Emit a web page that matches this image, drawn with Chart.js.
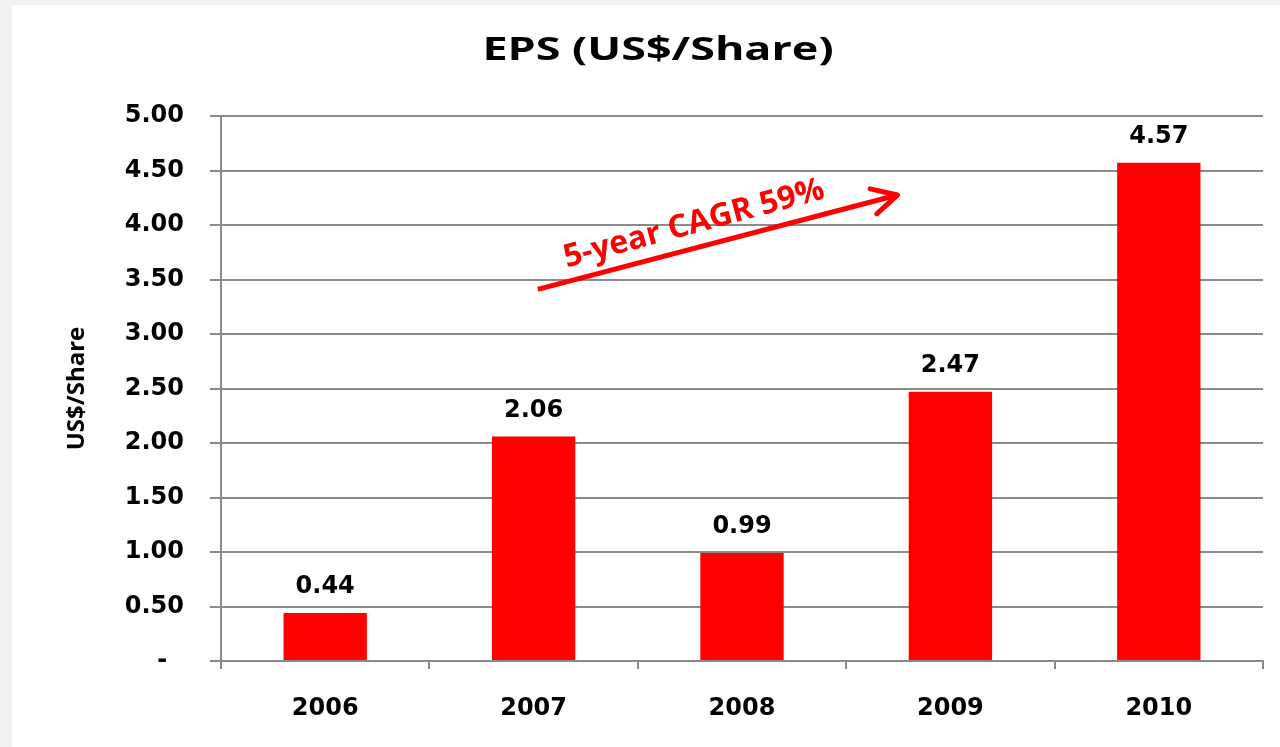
<!DOCTYPE html>
<html>
<head>
<meta charset="utf-8">
<script src="https://cdn.jsdelivr.net/npm/chart.js@4.4.1/dist/chart.umd.min.js"></script>
<style>
  html, body { margin: 0; padding: 0; background: #f2f2f2; }
  #panel { position: absolute; left: 12px; top: 5px; right: 0; bottom: 0; background: #fff; }
  #wrap { position: absolute; left: 0; top: 0; width: 1280px; height: 747px; }
</style>
</head>
<body>
<div id="panel"></div>
<div id="wrap"><canvas id="epsChart"></canvas></div>
<script>
const years = ["2006", "2007", "2008", "2009", "2010"];
const eps = [0.44, 2.06, 0.99, 2.47, 4.57];
const yTicks = [0, 0.5, 1, 1.5, 2, 2.5, 3, 3.5, 4, 4.5, 5];
const chartTitle = "EPS (US$/Share)";
const cagrText = "5-year CAGR 59%";

const gridColor = "#8a8a8a";
const tickFont = { family: "DejaVu Sans", weight: "bold", size: 24 };

// title is drawn wide (the source chart's title is horizontally stretched)
const wideTitle = {
  id: "wideTitle",
  afterDraw(chart) {
    const { ctx } = chart;
    ctx.save();
    ctx.translate(658, 51);
    ctx.scale(1.36, 1);
    ctx.font = "bold 33px 'Open Sans'";
    ctx.fillStyle = "#000";
    ctx.textAlign = "center";
    ctx.textBaseline = "middle";
    ctx.fillText(chartTitle, 0, 0);
    ctx.restore();
  },
};

// value labels over each bar
const valueLabels = {
  id: "valueLabels",
  afterDatasetsDraw(chart) {
    const { ctx } = chart;
    const meta = chart.getDatasetMeta(0);
    ctx.save();
    ctx.font = "bold 24px 'DejaVu Sans'";
    ctx.fillStyle = "#000";
    ctx.textAlign = "center";
    ctx.textBaseline = "middle";
    meta.data.forEach((bar, i) => {
      ctx.fillText(eps[i].toFixed(2), bar.x, bar.y - 26);
    });
    ctx.restore();
  },
};

// red growth arrow + rotated caption, placed in data units
const cagrArrow = {
  id: "cagrArrow",
  afterDatasetsDraw(chart) {
    const { ctx, scales: { x, y } } = chart;
    const x0 = x.getPixelForValue(1.02), y0 = y.getPixelForValue(3.41);
    const x1 = x.getPixelForValue(2.746), y1 = y.getPixelForValue(4.275);
    const ang = Math.atan2(y1 - y0, x1 - x0);
    ctx.save();
    ctx.strokeStyle = "#ff0000";
    ctx.lineWidth = 5;
    ctx.beginPath();
    ctx.moveTo(x0, y0);
    ctx.lineTo(x1 - 3 * Math.cos(ang), y1 - 3 * Math.sin(ang));
    ctx.stroke();
    const head = 28, spread = 0.48;
    ctx.lineCap = "round";
    ctx.lineJoin = "round";
    ctx.beginPath();
    ctx.moveTo(x1 - head * Math.cos(ang - spread), y1 - head * Math.sin(ang - spread));
    ctx.lineTo(x1, y1);
    ctx.lineTo(x1 - head * Math.cos(ang + spread), y1 - head * Math.sin(ang + spread));
    ctx.stroke();

    const tx = x.getPixelForValue(1.77), ty = y.getPixelForValue(4.01);
    ctx.translate(tx, ty);
    ctx.rotate(-15 * Math.PI / 180);
    ctx.fillStyle = "#ff0000";
    ctx.font = "bold 32px 'Open Sans'";
    ctx.textAlign = "center";
    ctx.textBaseline = "middle";
    ctx.fillText(cagrText, 0, 0);
    ctx.restore();
  },
};

new Chart(document.getElementById("epsChart"), {
  type: "bar",
  data: {
    labels: years,
    datasets: [
      {
        data: eps,
        backgroundColor: "#ff0000",
        borderWidth: 0,
        barPercentage: 0.4,
        categoryPercentage: 1,
      },
    ],
  },
  options: {
    responsive: true,
    maintainAspectRatio: false,
    animation: false,
    layout: { padding: { left: 55, right: 17, top: 116, bottom: 26 } },
    plugins: {
      legend: { display: false },
      tooltip: { enabled: false },
      title: { display: false },
    },
    scales: {
      x: {
        afterFit: (s) => { s.height = 60; },
        grid: {
          offset: true,
          drawOnChartArea: false,
          tickLength: 8,
          color: gridColor,
          lineWidth: 2,
        },
        border: { color: gridColor, width: 2 },
        ticks: { color: "#000", font: tickFont, padding: 25, maxRotation: 0 },
      },
      y: {
        min: 0,
        max: 5,
        afterBuildTicks: (s) => { s.ticks = yTicks.map((v) => ({ value: v })); },
        afterFit: (s) => { s.width = 166; },
        grid: { color: gridColor, lineWidth: 2, tickLength: 11 },
        border: { color: gridColor, width: 2 },
        ticks: {
          color: "#000",
          font: tickFont,
          padding: 26,
          callback: (v) => (v === 0 ? "-  " : v.toFixed(2)),
        },
        title: {
          display: true,
          text: "US$/Share",
          color: "#000",
          font: { family: "Open Sans", weight: "bold", size: 24, lineHeight: 1.2 },
          padding: { top: 8, bottom: 0 },
        },
      },
    },
  },
  plugins: [valueLabels, cagrArrow, wideTitle],
});
</script>
</body>
</html>
